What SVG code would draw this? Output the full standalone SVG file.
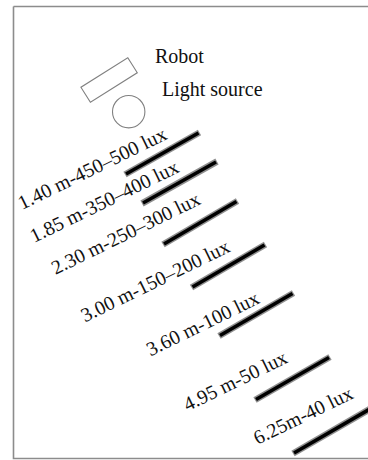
<svg xmlns="http://www.w3.org/2000/svg" width="368" height="460" viewBox="0 0 368 460">
<style>
.lbl{font-family:"Liberation Serif","Times New Roman",serif;font-size:20px;fill:#111}
.halo{stroke:#8f8f8f;stroke-width:6.6;stroke-linecap:butt;fill:none}
.core{stroke:#000;stroke-width:3.6;stroke-linecap:butt;fill:none}
.shape{fill:#fff;stroke:#808080;stroke-width:1.1}
</style>
<rect x="0" y="0" width="368" height="460" fill="#fff"/>
<path d="M13.5 6.5 H372 M13.5 6.5 V458.5 H372" fill="none" stroke="#8c8c8c" stroke-width="1.6"/>
<g id="robot">
<rect class="shape" x="-27.7" y="-8.9" width="55.4" height="17.8" transform="translate(109.1 80) rotate(-32.2)"/>
<text class="lbl" x="155" y="63">Robot</text>
</g>
<g id="light-source">
<circle class="shape" cx="128.7" cy="111.7" r="16.2"/>
<text class="lbl" x="162" y="96">Light source</text>
</g>
<g id="bars">
<g id="b1"><line class="halo" x1="125" y1="174.5" x2="199.5" y2="132.5"/><line class="core" x1="126" y1="174" x2="198.5" y2="133"/></g>
<g id="b2"><line class="halo" x1="142" y1="203.5" x2="217" y2="161.5"/><line class="core" x1="143" y1="203" x2="216" y2="162"/></g>
<g id="b3"><line class="halo" x1="163" y1="244.5" x2="237.5" y2="201"/><line class="core" x1="164" y1="244" x2="236.5" y2="201.5"/></g>
<g id="b4"><line class="halo" x1="191.5" y1="287.5" x2="265.5" y2="244.5"/><line class="core" x1="192.5" y1="287" x2="264.5" y2="245"/></g>
<g id="b5"><line class="halo" x1="219" y1="336" x2="293.5" y2="293"/><line class="core" x1="220" y1="335.5" x2="292.5" y2="293.5"/></g>
<g id="b6"><line class="halo" x1="255" y1="400" x2="330" y2="357"/><line class="core" x1="256" y1="399.5" x2="329" y2="357.5"/></g>
<g id="b7"><line class="halo" x1="293" y1="453.5" x2="370" y2="409"/><line class="core" x1="294" y1="453" x2="370" y2="409"/></g>
</g>
<g id="labels">
<text class="lbl" transform="translate(22 210) rotate(-26)">1.40 m-450–500 lux</text>
<text class="lbl" transform="translate(34 243) rotate(-26)">1.85 m-350–400 lux</text>
<text class="lbl" transform="translate(55.5 275) rotate(-26)">2.30 m-250–300 lux</text>
<text class="lbl" transform="translate(85 322.5) rotate(-26)">3.00 m-150–200 lux</text>
<text class="lbl" transform="translate(150.5 356.5) rotate(-26)">3.60 m-100 lux</text>
<text class="lbl" transform="translate(187.5 411.5) rotate(-26)">4.95 m-50 lux</text>
<text class="lbl" transform="translate(257.5 445) rotate(-26)">6.25m-40 lux</text>
</g>
</svg>
